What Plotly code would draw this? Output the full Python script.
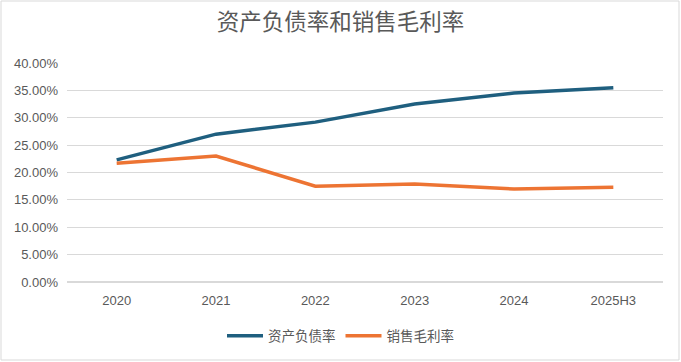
import plotly.graph_objects as go

categories = ["2020", "2021", "2022", "2023", "2024", "2025H3"]
debt_ratio = [0.223, 0.270, 0.292, 0.325, 0.345, 0.355]
gross_margin = [0.217, 0.230, 0.175, 0.179, 0.170, 0.173]
y_ticks = [0, 0.05, 0.10, 0.15, 0.20, 0.25, 0.30, 0.35, 0.40]

W, H = 681, 362
ml, mr, mt, mb = 67, 18, 63, 80

fig = go.Figure()
fig.add_trace(go.Scatter(x=categories, y=debt_ratio, mode="lines", name="资产负债率",
                         line=dict(color="#1F5F7F", width=3.5)))
fig.add_trace(go.Scatter(x=categories, y=gross_margin, mode="lines", name="销售毛利率",
                         line=dict(color="#ED7433", width=3.5)))

pw = W - ml - mr
ph = H - mt - mb
fig.add_shape(type="rect", xref="paper", yref="paper",
              x0=(1 - ml) / pw, x1=(W - 2 - ml) / pw,
              y0=-(H - 2 - mt - ph) / ph, y1=1 + (mt - 1) / ph,
              line=dict(color="#D9D9D9", width=1), fillcolor="rgba(0,0,0,0)", layer="below")

fig.update_layout(
    width=W, height=H,
    margin=dict(l=ml, r=mr, t=mt, b=mb),
    paper_bgcolor="white", plot_bgcolor="white",
    font=dict(family="Noto Sans CJK SC, Liberation Sans, sans-serif", color="#595959"),
    title=dict(text="资产负债率和销售毛利率", xref="container", x=0.5, xanchor="center",
               yref="container", y=(H - 22) / H, yanchor="middle",
               font=dict(size=22.5, color="#595959")),
    xaxis=dict(type="category", showgrid=False, showline=False, ticks="",
               tickfont=dict(size=13, color="#595959", family="Liberation Sans, sans-serif"),
               ticklabelstandoff=9, range=[-0.5, 5.5]),
    yaxis=dict(range=[0, 0.4], tickvals=y_ticks, tickformat=".2%", showgrid=True,
               gridcolor="#D9D9D9", gridwidth=1, zeroline=True, zerolinecolor="#D9D9D9",
               showline=False, ticks="", ticklabelstandoff=8,
               tickfont=dict(size=13, color="#595959", family="Liberation Sans, sans-serif")),
    legend=dict(orientation="h", xref="container", x=0.5, xanchor="center",
                yref="container", y=(H - 336) / H, yanchor="middle",
                font=dict(size=13.5, color="#595959"), itemwidth=36, traceorder="normal"),
    showlegend=True,
)

fig.write_html("out.html", config={"displayModeBar": False},
               post_script="document.body.style.margin='0';document.body.style.overflow='hidden';")
